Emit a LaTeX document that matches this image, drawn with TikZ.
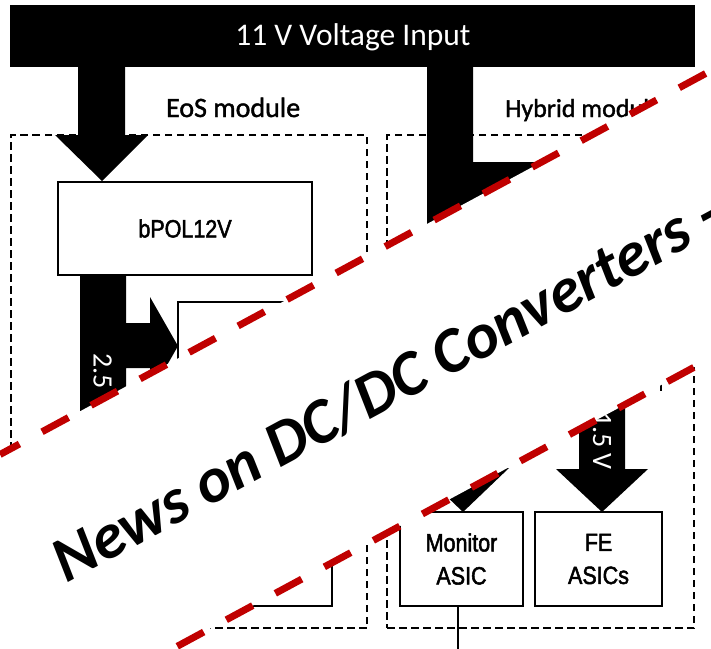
\documentclass[tikz,border=0pt]{standalone}
\usepackage{fontspec}
\setmainfont{Carlito}
\newfontfamily\narrowfont[FakeStretch=0.86, FakeBold=2]{Liberation Sans}
\newfontfamily\lblfont[FakeBold=1.5]{Carlito}
\usetikzlibrary{calc}
\definecolor{pptred}{RGB}{192,0,0}
\begin{document}
\begin{tikzpicture}[x=1pt,y=-1pt,
  modbox/.style={draw=black, line width=1.8pt, dash pattern=on 7.5pt off 4.5pt, inner sep=0pt},
  blockbox/.style={draw=black, line width=2pt, fill=white, inner sep=0pt, align=center,
    font=\narrowfont\fontsize{25}{33}\selectfont},
  thinbox/.style={draw=black, line width=1.4pt, inner sep=0pt},
  thinline/.style={draw=black, line width=1.4pt},
  fatarrow/.style={fill=black},
  lbl/.style={inner sep=0pt, font=\lblfont\fontsize{26}{30}\selectfont},
  shafttext/.style={inner sep=0pt, text=white, rotate=-90, font=\fontsize{28}{32}\selectfont},
  redband/.style={draw=pptred, line width=7pt, dash pattern=on 30pt off 25.7pt}
]
\useasboundingbox (0,0) rectangle (711,648);
\clip (0,0) rectangle (711,648);

% top bar
\node[fill=black, minimum width=685pt, minimum height=62pt, inner sep=0pt] (bar) at (352.5,36) {};
\node[inner sep=0pt, anchor=base, text=white, font=\fontsize{31.5}{36}\selectfont] (bartext) at (353,45) {11 V Voltage Input};

% module frames
\node[modbox, minimum width=356pt, minimum height=493pt] (eos) at (189,381.5) {};
\node[modbox, minimum width=307pt, minimum height=493pt] (hyb) at (540.5,381.5) {};
\node[lbl, anchor=base west, font=\lblfont\fontsize{28}{30}\selectfont] (eoslbl) at (166,117) {EoS module};
\node[lbl, anchor=base west] (hyblbl) at (505,117) {Hybrid module};

% fat arrows
\fill[fatarrow] (78,67) -- (78,135) -- (55,135) -- (102,181) -- (148,135) -- (125,135) -- (125,67) -- cycle;
\fill[fatarrow] (80,275) -- (80,560) -- (126,560) -- (126,368) -- (150,368) -- (150,395)
  -- (178,346) -- (150,297) -- (150,323) -- (126,323) -- (126,275) -- cycle;
\fill[fatarrow] (427,67) -- (427,320) -- (473,320) -- (473,208) -- (620,208) -- (620,162)
  -- (473,162) -- (473,67) -- cycle;
\fill[fatarrow] (440,400) -- (440,468) -- (417,468) -- (463,512) -- (509,468) -- (486,468) -- (486,400) -- cycle;
\fill[fatarrow] (579,380) -- (579,469) -- (556,469) -- (602,512) -- (648,469) -- (625,469) -- (625,380) -- cycle;

% blocks
\node[blockbox, minimum width=254pt, minimum height=93pt] (bpol) at (185,228.5) {bPOL12V};
\node[thinbox, minimum width=154pt, minimum height=304pt] (conv) at (255,454) {};
\node[blockbox, minimum width=123pt, minimum height=94pt] (mon) at (461.5,559) {Monitor\\ASIC};
\node[blockbox, minimum width=127pt, minimum height=94pt] (fe) at (598.5,559) {FE\\ASICs};

% shaft labels
\node[shafttext, anchor=west] (v25) at (102.5,353) {2.5};
\node[shafttext, anchor=west] (v15) at (602,412) {1.5 V};

% thin lines
\draw[thinline] ($(mon.south)+(-3.5,0)$) -- ++(0,45);
\draw[thinline] (640,385) -- (661,385) -- (661,391);

% white title band with red dashed borders
\fill[white] (0,454.5) -- (711,70.6) -- (711,358.1) -- (0,742) -- cycle;
\draw[redband, dash phase=7.9pt] (0,454.5) -- (711,70.6);
\draw[redband, dash phase=21.3pt] (0,742) -- (711,358.1);

\node[anchor=base west, rotate=28.37, inner sep=0pt, font=\bfseries\itshape\fontsize{64}{72}\selectfont] (title) at (66,584) {News on DC/DC Converters -};
\end{tikzpicture}
\end{document}
